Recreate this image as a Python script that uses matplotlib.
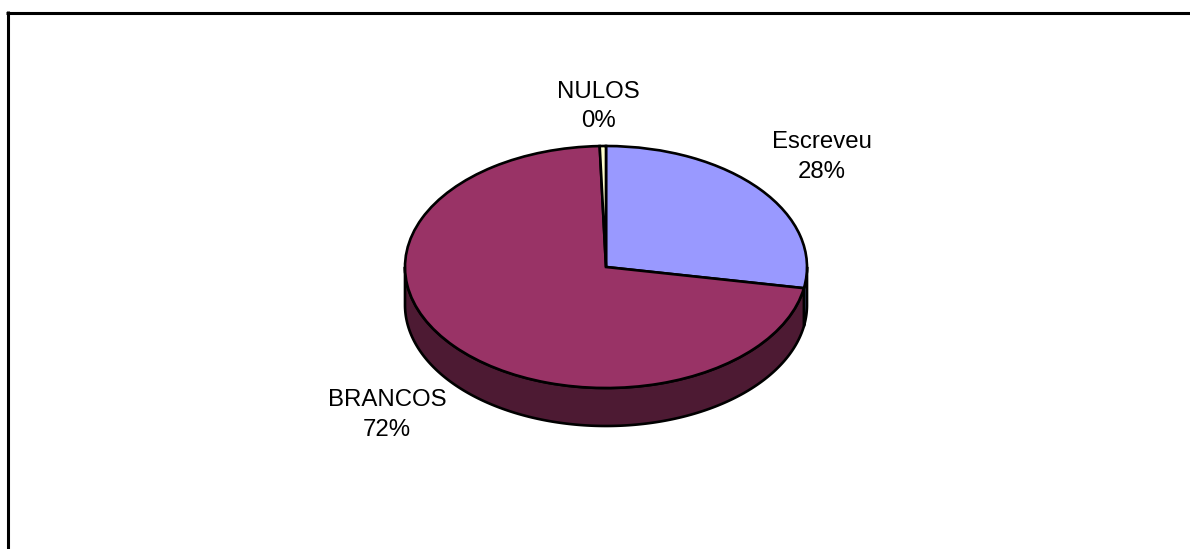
import numpy as np
from matplotlib import pyplot as plt
from matplotlib.lines import Line2D

# Data
labels = ["Escreveu", "BRANCOS", "NULOS"]
values = [27.8, 71.7, 0.5]
top_colors = ["#9999FF", "#993366", "#FFFFCC"]
side_colors = ["#6070B0", "#4D1A33", "#808066"]

W, H = 1190, 549
cx, cy = 606, 267  # pie centre in pixels
rx, ry = 201, 121  # ellipse radii in pixels
depth = 38 / ry  # rim height in data units

plt.rcParams['font.family'] = ['Liberation Sans', 'DejaVu Sans']

fig = plt.figure(figsize=(W / 100, H / 100), dpi=100, facecolor='white')
ax = fig.add_axes([0, 0, 1, 1])

# Rim first, one polygon for each slice that faces front
ends = 90 - np.cumsum(values) * 360 / sum(values)
starts = np.r_[90, ends[:-1]]
for start, end, color in zip(starts, ends, side_colors):
    a = max(end, -180)
    b = min(start, 0)
    if a >= b:
        continue
    t = np.radians(np.linspace(a, b, 200))
    xs = np.r_[np.cos(t), np.cos(t[::-1])]
    ys = np.r_[np.sin(t), np.sin(t[::-1]) - depth]
    ax.fill(xs, ys, facecolor=color, edgecolor='black', lw=1.9, joinstyle='round')

# Top face
ax.pie(values, colors=top_colors, startangle=90, counterclock=False, radius=1,
       wedgeprops={'edgecolor': 'black', 'linewidth': 1.9})

# pie forces an equal aspect, the tilt comes from unequal axis scales
ax.set_aspect('auto')
ax.set_xlim(-cx / rx, (W - cx) / rx)
ax.set_ylim((cy - H) / ry, cy / ry)
ax.axis('off')

# Labels
label_x = [822, 387, 598.5]
label_y = [157, 415, 106.5]
for name, v, x, y in zip(labels, values, label_x, label_y):
    fig.text(x / W, 1 - y / H, f"{name}\n{round(v)}%", ha='center', va='center',
             fontsize=17.3, linespacing=1.43, color='black')

# Chart frame, only the top and left sides are in the picture
fig.add_artist(Line2D([7.5 / W, 7.5 / W], [0, 1 - 11 / H], color='black', lw=2.2,
                      solid_capstyle='butt'))
fig.add_artist(Line2D([6 / W, 1], [1 - 12.5 / H, 1 - 12.5 / H], color='black', lw=2.2,
                      solid_capstyle='butt'))

fig.savefig("out.png", dpi=100)
